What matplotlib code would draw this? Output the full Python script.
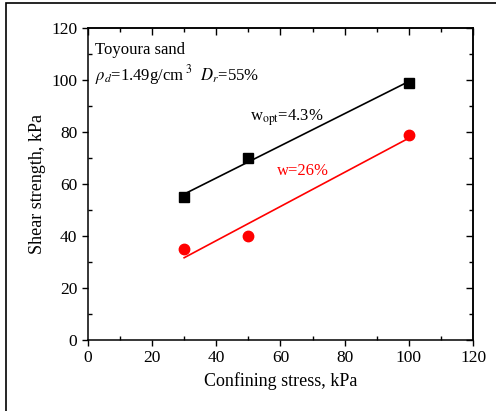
import numpy as np
import matplotlib
matplotlib.use('Agg')
from matplotlib import pyplot as plt
from matplotlib.patches import Rectangle

plt.rcParams['font.family'] = 'Liberation Serif'
plt.rcParams['mathtext.fontset'] = 'stix'

stress = [30, 50, 100]
strength_opt = [55, 70, 99]
strength_26 = [35, 40, 79]

fig = plt.figure(figsize=(4.96, 4.11), dpi=100)
ax = fig.add_axes([0.177, 0.173, 0.777, 0.759])

# linear fits
xs = np.array([30, 100])
p1 = np.polyfit(stress, strength_opt, 1)
p2 = np.polyfit(stress, strength_26, 1)
ax.plot(xs, np.polyval(p1, xs), color='black', lw=1.2)
ax.plot(xs, np.polyval(p2, xs), color='red', lw=1.2)
ax.plot(stress, strength_opt, 's', color='black', ms=6.5)
ax.plot(stress, strength_26, 'o', color='red', ms=7.5)

ax.set_xlim(0, 120)
ax.set_ylim(0, 120)
major = np.arange(0, 121, 20)
minor = np.arange(10, 120, 20)
ax.set_xticks(major)
ax.set_yticks(major)
ax.set_xticks(minor, minor=True)
ax.set_yticks(minor, minor=True)
ax.tick_params(which='major', direction='out', length=4, width=1, labelsize=12.5)
ax.tick_params(which='minor', direction='in', length=3, width=1)
for s in ax.spines.values():
    s.set_linewidth(1.1)

# top / right ticks point inwards
top = ax.secondary_xaxis('top')
right = ax.secondary_yaxis('right')
for a in (top, right):
    a.set_ticks(major)
    a.set_ticks(minor, minor=True)
    a.tick_params(which='major', direction='in', length=5, width=1, labelleft=False,
                  labelright=False, labeltop=False, labelbottom=False)
    a.tick_params(which='minor', direction='in', length=3, width=1)
    for s in a.spines.values():
        s.set_linewidth(1.1)

ax.set_xlabel('Confining stress, kPa', fontsize=13)
ax.set_ylabel('Shear strength, kPa', fontsize=13)

ax.text(2.2, 111.5, 'Toyoura sand', fontsize=12, va='center')
ax.text(2.2, 102, r'$\rho_d$=1.49g/cm$^{\ 3}$  $D_r$=55%', fontsize=12, va='center')
ax.text(50.5, 85.5, r'w$_{\rm opt}$=4.3%', fontsize=12, va='center')
ax.text(59, 65, 'w=26%', fontsize=12, va='center', color='red')

# outer frame (right and bottom edges fall outside the image)
fig.patches.append(Rectangle((6/496, -0.05), 1.0, 1.05 - 3/411, transform=fig.transFigure,
                             fill=False, edgecolor='black', lw=1.2))

fig.savefig('out.png', dpi=100)
